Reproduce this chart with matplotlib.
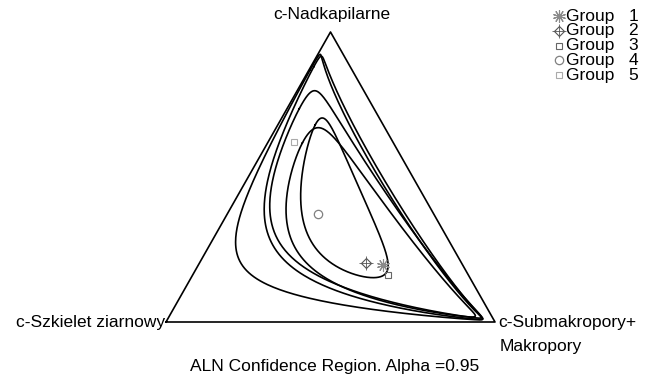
import numpy as np
import matplotlib.pyplot as plt

plt.rcParams['font.family'] = ['Liberation Sans', 'DejaVu Sans']

# group means (Nadkapilarne, Szkielet ziarnowy, Submakropory+Makropory)
groups = ['Group   1', 'Group   2', 'Group   3', 'Group   4', 'Group   5']
nadkap = [0.197, 0.203, 0.162, 0.372, 0.621]
szkielet = [0.243, 0.292, 0.245, 0.351, 0.300]
submakro = [0.560, 0.505, 0.593, 0.277, 0.079]

# ALN regions as ellipses in alr space: u = ln(a/c), w = ln(b/c)
reg_u = [0.365, -0.03, -0.62, -1.09, 0.25]
reg_w = [0.173, -0.40, -0.74, -0.94, -0.10]
reg_major = [6.20, 5.44, 4.41, 3.43, 1.69]
reg_minor = [1.20, 1.05, 0.90, 0.80, 0.53]
reg_angle = [33.6, 32.2, 35.3, 33.7, 24.5]

H = 290 / 329


def tern(a, b, c):
    a, b, c = np.asarray(a), np.asarray(b), np.asarray(c)
    s = a + b + c
    return (c + a / 2) / s, a * H / s


def aln_region(u0, w0, A, B, ang):
    t = np.linspace(0, 2 * np.pi, 600)
    th = np.radians(ang)
    du, dw = A * np.cos(t), B * np.sin(t)
    u = u0 + du * np.cos(th) - dw * np.sin(th)
    w = w0 + du * np.sin(th) + dw * np.cos(th)
    d = 1 + np.exp(u) + np.exp(w)
    return tern(np.exp(u) / d, np.exp(w) / d, 1 / d)


fig = plt.figure(figsize=(6.56, 3.78), dpi=100)
ax = fig.add_axes([166 / 656, 56 / 378, 329 / 656, 290 / 378])
ax.set_xlim(0, 1)
ax.set_ylim(0, H)
ax.axis('off')

# overlay in pixel units for labels and legend
top = fig.add_axes([0, 0, 1, 1], facecolor='none')
top.set_xlim(0, 656)
top.set_ylim(378, 0)
top.axis('off')

# triangle
ax.plot([0, 1, 0.5, 0], [0, 0, H, 0], color='black', lw=1.2, clip_on=False)

for i in range(len(reg_u)):
    x, y = aln_region(reg_u[i], reg_w[i], reg_major[i], reg_minor[i], reg_angle[i])
    ax.plot(x, y, color='black', lw=1.2, clip_on=False)

markers = [[dict(marker=(10, 2, 0), ms=9, mec='#8a8a8a', mew=0.8)],
           [dict(marker='D', ms=5, mfc='none', mec='#555555', mew=0.8),
            dict(marker='+', ms=10, mec='#555555', mew=0.6)],
           [dict(marker='s', ms=4, mfc='none', mec='#666666', mew=0.8)],
           [dict(marker='o', ms=6, mfc='none', mec='#808080', mew=0.9)],
           [dict(marker='s', ms=4, mfc='none', mec='#aaaaaa', mew=0.8)]]

gx, gy = tern(nadkap, szkielet, submakro)
for i in range(len(groups)):
    ly = 16 + 14.8 * i
    for m in markers[i]:
        ax.plot(gx[i], gy[i], ls='none', **m)
        top.plot(559, ly, ls='none', **m)
    top.text(566, ly, groups[i], ha='left', va='center', fontsize=12.5)

top.text(332, 15, 'c-Nadkapilarne', ha='center', va='center', fontsize=12.5)
top.text(165, 322, 'c-Szkielet ziarnowy', ha='right', va='center', fontsize=12.5)
top.text(498, 322, 'c-Submakropory+', ha='left', va='center', fontsize=12.5)
top.text(500, 347, 'Makropory', ha='left', va='center', fontsize=12.5)
top.text(335, 367, 'ALN Confidence Region. Alpha =0.95', ha='center', va='center',
         fontsize=12.5)

fig.savefig('out.png', dpi=100)
